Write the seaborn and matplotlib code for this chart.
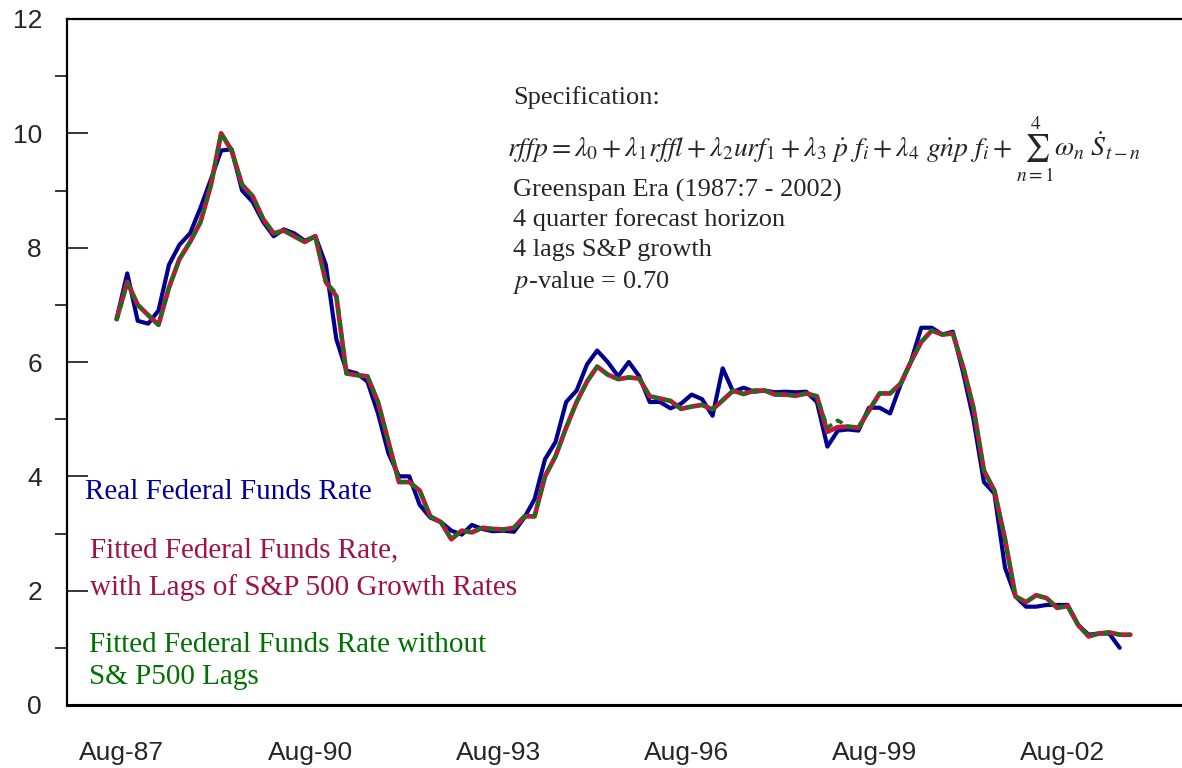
import matplotlib
matplotlib.use("Agg")
import matplotlib.pyplot as plt
import matplotlib.dates as mdates
from matplotlib.ticker import MultipleLocator
import numpy as np
import pandas as pd
import seaborn as sns

# bimonthly observations, Jul-1987 .. Sep-2003
dates = pd.date_range("1987-07-01", "2003-09-01", freq="2MS")

real_rate = [6.75, 7.55, 6.72, 6.67, 6.9, 7.7, 8.05, 8.25, 8.7, 9.2,
             9.7, 9.72, 9.0, 8.8, 8.45, 8.2, 8.32, 8.25, 8.12, 8.2,
             7.7, 6.4, 5.85, 5.8, 5.66, 5.1, 4.4, 4.0, 4.0, 3.5,
             3.28, 3.2, 3.05, 2.98, 3.15, 3.08, 3.04, 3.05, 3.03, 3.28,
             3.6, 4.3, 4.6, 5.3, 5.5, 5.96, 6.2, 6.0, 5.75, 6.0,
             5.75, 5.3, 5.3, 5.19, 5.27, 5.43, 5.35, 5.06, 5.89, 5.48,
             5.55, 5.48, 5.5, 5.47, 5.48, 5.47, 5.48, 5.3, 4.52, 4.8,
             4.82, 4.8, 5.2, 5.2, 5.1, 5.6, 6.0, 6.6, 6.6, 6.48,
             6.53, 5.8, 5.0, 3.9, 3.7, 2.4, 1.9, 1.72, 1.72, 1.75,
             1.75, 1.75, 1.4, 1.23, 1.25, 1.25, 1.0, np.nan]

fitted_lags = [6.75, 7.4, 7.0, 6.82, 6.65, 7.3, 7.8, 8.1, 8.45, 9.1,
               10.0, 9.7, 9.1, 8.9, 8.5, 8.25, 8.3, 8.2, 8.1, 8.2,
               7.4, 7.15, 5.8, 5.77, 5.75, 5.3, 4.6, 3.9, 3.9, 3.75,
               3.3, 3.2, 2.9, 3.05, 3.02, 3.1, 3.08, 3.07, 3.1, 3.3,
               3.3, 4.0, 4.35, 4.85, 5.3, 5.66, 5.92, 5.78, 5.7, 5.73,
               5.71, 5.4, 5.36, 5.32, 5.18, 5.22, 5.25, 5.17, 5.33, 5.5,
               5.44, 5.5, 5.5, 5.43, 5.43, 5.41, 5.45, 5.4, 4.78, 4.86,
               4.87, 4.85, 5.15, 5.45, 5.45, 5.62, 6.0, 6.35, 6.55, 6.48,
               6.5, 5.9, 5.2, 4.1, 3.75, 2.9, 1.9, 1.8, 1.92, 1.87,
               1.7, 1.73, 1.4, 1.2, 1.25, 1.27, 1.23, 1.23]

fitted_nolags = [6.72, 7.37, 7.0, 6.82, 6.65, 7.3, 7.8, 8.1, 8.45, 9.1,
                 10.0, 9.7, 9.1, 8.9, 8.5, 8.25, 8.3, 8.2, 8.1, 8.2,
                 7.4, 7.2, 5.8, 5.77, 5.75, 5.3, 4.6, 3.9, 3.9, 3.75,
                 3.3, 3.2, 2.9, 3.05, 3.02, 3.1, 3.08, 3.07, 3.1, 3.3,
                 3.3, 4.0, 4.35, 4.85, 5.3, 5.66, 5.92, 5.78, 5.7, 5.73,
                 5.71, 5.4, 5.36, 5.32, 5.18, 5.22, 5.25, 5.17, 5.33, 5.5,
                 5.44, 5.5, 5.5, 5.43, 5.43, 5.41, 5.45, 5.4, 4.85, 4.98,
                 4.87, 4.85, 5.15, 5.45, 5.45, 5.62, 6.0, 6.35, 6.55, 6.48,
                 6.5, 5.9, 5.2, 4.1, 3.75, 2.9, 1.9, 1.8, 1.92, 1.87,
                 1.7, 1.73, 1.4, 1.2, 1.25, 1.27, 1.23, 1.23]

tick_years = [1987, 1990, 1993, 1996, 1999, 2002]

df = pd.DataFrame({"date": dates, "real": real_rate,
                   "lags": fitted_lags, "nolags": fitted_nolags})

sns.set_style("white")
plt.rcParams["font.family"] = ["Liberation Sans", "DejaVu Sans"]
plt.rcParams["mathtext.fontset"] = "stix"

W, H = 1182, 768
fig = plt.figure(figsize=(W / 100, H / 100), dpi=100)
ax = fig.add_axes([67 / W, 63 / H, 1 - 67 / W, (705 - 19) / H])

sns.lineplot(data=df, x="date", y="real", ax=ax, color="#000090", lw=3.0)
sns.lineplot(data=df, x="date", y="lags", ax=ax, color="#CC1040", lw=3.4)
sns.lineplot(data=df, x="date", y="nolags", ax=ax, color="#137513", lw=2.7,
             ls=(0, (2.0, 1.3)))

ax.set_xlim(pd.Timestamp("1986-09-15"), pd.Timestamp("2004-06-28"))
ax.set_ylim(0, 12)
ax.set_xlabel("")
ax.set_ylabel("")

ax.set_xticks([pd.Timestamp(f"{y}-08-01") for y in tick_years])
ax.xaxis.set_major_formatter(mdates.DateFormatter("%b-%y"))
ax.yaxis.set_major_locator(MultipleLocator(2))
ax.yaxis.set_minor_locator(MultipleLocator(1))

ax.tick_params(axis="x", length=0, pad=26, labelsize=19)
ax.yaxis.set_tick_params(which="major", left=True, direction="in",
                         length=15, width=1.3, pad=18, labelsize=19)
ax.yaxis.set_tick_params(which="minor", left=True, direction="out",
                         length=9, width=1.3)

for side in ["left", "top", "bottom"]:
    ax.spines[side].set_visible(True)
    ax.spines[side].set_color("black")
    ax.spines[side].set_linewidth(1.6)
ax.spines["bottom"].set_linewidth(2.2)
ax.spines["right"].set_visible(False)


def px_text(x, y, s, va="center", **kw):
    return fig.text(x / W, 1 - y / H, s, ha="left", va=va, **kw)


serif = ["Liberation Serif", "DejaVu Serif"]

# specification box
px_text(513, 98, "Specification:", family=serif, fontsize=19)
eq_left = px_text(507, 156,
                  r"$rffp = \lambda_0 + \lambda_1 rffl + \lambda_2 urf_1 + \lambda_3\ \dot{p}\ f_i"
                  r" + \lambda_4\ g\dot{n}p\ f_i + $",
                  va="baseline", fontsize=20)
fig.canvas.draw()
bb = eq_left.get_window_extent()
px_text(bb.x1 + 4, 156, r"$\sum_{n=1}^{4}\omega_n\ \dot{S}_{t-n}$",
        va="baseline", fontsize=20)
px_text(513, 190, "Greenspan Era (1987:7 - 2002)", family=serif, fontsize=19)
px_text(513, 220, "4 quarter forecast horizon", family=serif, fontsize=19)
px_text(513, 250, "4 lags S&P growth", family=serif, fontsize=19)
px_text(513, 282, r"$p$-value = 0.70", family=serif, fontsize=19)

# series labels
px_text(85, 492, "Real Federal Funds Rate", family=serif, fontsize=21, color="#000099")
px_text(90, 550, "Fitted Federal Funds Rate,", family=serif, fontsize=21, color="#A0104A")
px_text(90, 588, "with Lags of S&P 500 Growth Rates", family=serif, fontsize=21, color="#A0104A")
px_text(89, 645, "Fitted Federal Funds Rate without", family=serif, fontsize=21, color="#007000")
px_text(89, 677, "S& P500 Lags", family=serif, fontsize=21, color="#007000")

fig.savefig("out.png", dpi=100)
